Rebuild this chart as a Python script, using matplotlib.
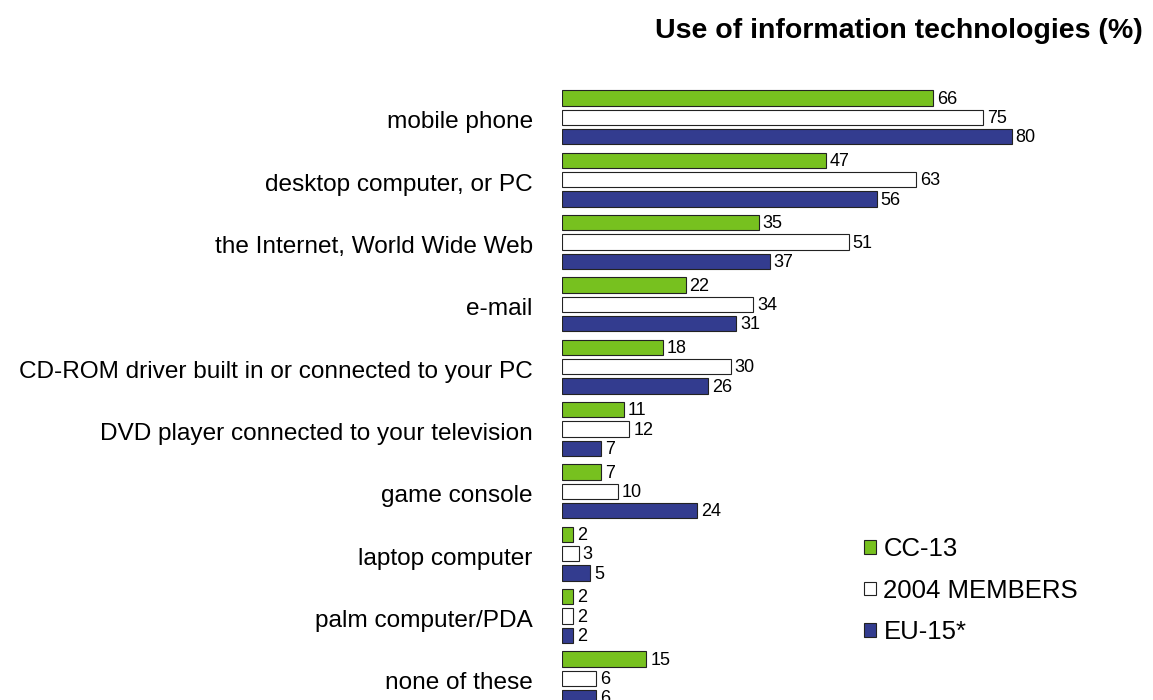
import numpy as np
import matplotlib
matplotlib.use('Agg')
import matplotlib.pyplot as plt
from matplotlib.patches import Patch

plt.rcParams['font.family'] = ['Liberation Sans', 'DejaVu Sans']

categories = [
    'mobile phone',
    'desktop computer, or PC',
    'the Internet, World Wide Web',
    'e-mail',
    'CD-ROM driver built in or connected to your PC',
    'DVD player connected to your television',
    'game console',
    'laptop computer',
    'palm computer/PDA',
    'none of these',
]
cc13 = [66, 47, 35, 22, 18, 11, 7, 2, 2, 15]
members_2004 = [75, 63, 51, 34, 30, 12, 10, 3, 2, 6]
eu15 = [80, 56, 37, 31, 26, 7, 24, 5, 2, 6]

series = [
    ('CC-13', cc13, '#77C11F'),
    ('2004 MEMBERS', members_2004, '#FFFFFF'),
    ('EU-15*', eu15, '#333C8F'),
]

fig = plt.figure(figsize=(11.53, 7.0), dpi=100)
ax = fig.add_axes([562 / 1153, 0.0, 590 / 1153, 620 / 700])

y = np.arange(len(categories))
offsets = [-0.31, 0.0, 0.31]
for (name, vals, color), off in zip(series, offsets):
    bars = ax.barh(y + off, vals, height=0.245, color=color,
                   edgecolor='#222222', linewidth=0.8, label=name)
    for b, v in zip(bars, vals):
        ax.text(b.get_width() + 0.7, b.get_y() + b.get_height() / 2 + 0.02,
                str(v), va='center', ha='left', fontsize=13)

ax.set_xlim(0, 105)
ax.set_ylim(9.35, -0.6)
ax.set_yticks(y + 0.04)
ax.set_yticklabels(categories, fontsize=17.6)
ax.tick_params(axis='y', length=0, pad=21)
ax.set_xticks([])
for s in ax.spines.values():
    s.set_visible(False)

# legend sits in the empty lower-right corner
handles = [Patch(facecolor=c, edgecolor='#222222', linewidth=0.8, label=n)
           for n, _, c in series]
fig.legend(handles=handles, loc='upper left', bbox_to_anchor=(841 / 1153, 1 - 514 / 700),
           frameon=False, fontsize=18.5, handlelength=0.45, handleheight=0.45,
           handletextpad=0.3, labelspacing=0.68)

fig.text(1143 / 1153, 1 - 31 / 700, 'Use of information technologies (%)',
         ha='right', va='center', fontsize=20.5, fontweight='bold')

fig.savefig('out.png', dpi=100)
